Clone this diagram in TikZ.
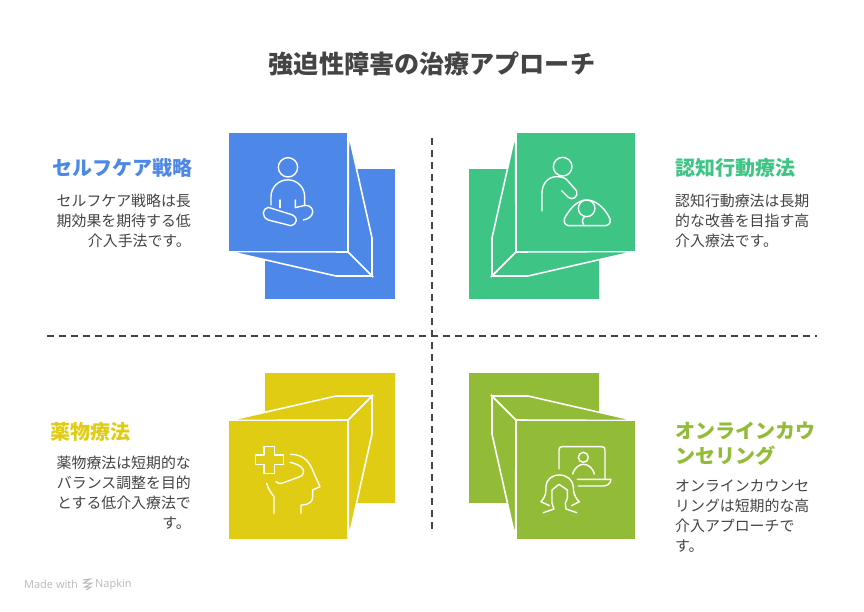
\documentclass[tikz,border=0pt]{standalone}
\usepackage{fontspec}
\setmainfont{Noto Sans CJK JP}
\newfontfamily\wmfont{Open Sans}
\definecolor{selfblue}{HTML}{4D88E8}
\definecolor{cbtgreen}{HTML}{3EC585}
\definecolor{drugyellow}{HTML}{E0CC12}
\definecolor{onlinegreen}{HTML}{92BC38}
\definecolor{inktext}{HTML}{444444}
\tikzset{
  titletext/.style={font=\fontsize{25.1}{28}\selectfont\bfseries,text=inktext},
  headtext/.style={font=\fontsize{20}{24.5}\selectfont\bfseries,inner sep=0pt},
  bodytext/.style={font=\fontsize{14.9}{20}\selectfont,text=inktext,inner sep=0pt},
  divider/.style={line width=1.4pt,inktext,dash pattern=on 7pt off 5pt},
  iconline/.style={white,line width=1.4pt,line cap=round,line join=round},
  faceline/.style={draw=white,line width=1.6pt,line join=miter},
}
\newcommand{\cubefigure}[1]{
  \fill[#1](265,169)rectangle(395,299);
  \filldraw[faceline,fill=#1](348.5,133)--(372,238)--(372,276)--(348,252)--cycle;
  \filldraw[faceline,fill=#1](229,251.5)--(336,276)--(372,276)--(348,252)--cycle;
  \fill[#1](229,133)rectangle(347,251);
  \draw[faceline](347.5,133)--(347.5,251.5)--(229,251.5);
}
\begin{document}
\begin{tikzpicture}[x=1pt,y=-1pt]
  \useasboundingbox(0,0)rectangle(864,612);
  \fill[white](0,0)rectangle(864,612);
  \node[titletext](title)at(432,64){強迫性障害の治療アプローチ};
  % cubes
  \cubefigure{selfblue}
  \begin{scope}[shift={(864,0)},xscale=-1]
    \cubefigure{cbtgreen}
  \end{scope}
  \begin{scope}[shift={(0,672)},yscale=-1]
    \cubefigure{drugyellow}
  \end{scope}
  \begin{scope}[shift={(864,672)},xscale=-1,yscale=-1]
    \cubefigure{onlinegreen}
  \end{scope}
  % dividers
  \coordinate(hleft)at(47,336);
  \coordinate(hright)at(817,336);
  \coordinate(vtop)at(432,138);
  \coordinate(vbottom)at(432,534);
  \draw[divider](hleft)--(hright);
  \draw[divider](vtop)--(vbottom);
  % meditating person
  \begin{scope}[shift={(220,125)},scale=0.3333]
    \draw[iconline](204,127)circle(29);
    \draw[iconline](153,240)--(153,215)arc(180:360:50.5)--(254,242);
    \draw[iconline](180,225)--(180,248);
    \draw[iconline](226,225)--(226,248)--(255,241)..controls(270,240)and(280,252)..(278,262)..controls(276,275)and(265,282)..(250,285);
    \draw[iconline](145,247)--(218,270)..controls(235,278)and(232,298)..(212,302)--(145,285)..controls(122,275)and(128,250)..(145,247)--cycle;
  \end{scope}
  % carer and child
  \begin{scope}[shift={(460,125)},scale=0.3333]
    \draw[iconline](308,125)circle(28);
    \draw[iconline](246,258)--(246,205)..controls(246,175)and(265,155)..(290,155)..controls(305,155)and(315,158)..(322,166)--(350,198)..controls(356,215)and(338,228)..(325,217)--(305,197);
    \draw[iconline](380,250)circle(25);
    \draw[iconline](325,302)--(438,302)..controls(452,300)and(455,285)..(445,272)..controls(430,245)and(405,225)..(380,225)..controls(355,225)and(335,245)..(318,272)..controls(308,285)and(312,300)..(325,302);
    \draw[iconline](375,274)..controls(362,285)and(368,295)..(372,302);
  \end{scope}
  % head with cross
  \begin{scope}[shift={(220,365)},scale=0.3333]
    \draw[iconline](132,245)--(163,245)--(163,270)--(190,270)--(190,298)--(163,298)--(163,325)--(132,325)--(132,298)--(106,298)--(106,270)--(132,270)--cycle;
    \draw[iconline](212,268)..controls(255,268)and(270,295)..(282,325)--(300,365)--(278,375)--(278,395)..controls(278,412)and(265,420)..(243,420)--(243,445);
    \draw[iconline](210,292)..controls(240,298)and(255,312)..(250,325)..controls(245,335)and(240,335)..(232,338)--(185,355)..controls(178,357)and(172,354)..(168,350);
    \draw[iconline](140,355)..controls(145,375)and(155,385)..(162,395)--(162,445);
  \end{scope}
  % online session
  \begin{scope}[shift={(460,365)},scale=0.3333]
    \draw[iconline](297,312)--(297,255)..controls(297,248)and(300,245)..(307,245)--(425,245)..controls(432,245)and(435,248)..(435,255)--(435,342);
    \draw[iconline](352,343)--(453,343)..controls(452,355)and(442,363)..(430,363)--(355,363);
    \draw[iconline](370,277)circle(15);
    \draw[iconline](338,327)..controls(345,305)and(360,298)..(370,298)..controls(382,298)and(397,305)..(403,327);
    \draw[iconline](268,422)--(243,410)..controls(258,395)and(258,380)..(258,365)..controls(258,345)and(275,330)..(297,330)..controls(322,330)and(338,345)..(340,365)..controls(340,380)and(342,395)..(358,410)--(335,422);
    \draw[iconline](250,443)--(282,432)--(276,415)--(276,375)--(297,358)--(322,375)--(322,400)--(316,415)--(318,432)--(350,443);
  \end{scope}
  % labels
  \node[headtext,text=selfblue,anchor=north west](selfhead)at(52,158){セルフケア戦略};
  \node[bodytext,align=right,anchor=north east](selfbody)at(191,194){セルフケア戦略は長\\期効果を期待する低\\介入手法です。};
  \node[headtext,text=cbtgreen,anchor=north west](cbthead)at(675,158){認知行動療法};
  \node[bodytext,align=left,anchor=north west](cbtbody)at(675,194){認知行動療法は長期\\的な改善を目指す高\\介入療法です。};
  \node[headtext,text=drugyellow,anchor=north west](drughead)at(50,422){薬物療法};
  \node[bodytext,align=right,anchor=north east](drugbody)at(191,456){薬物療法は短期的な\\バランス調整を目的\\とする低介入療法で\\す。};
  \node[headtext,text=onlinegreen,anchor=north west,align=left](onlinehead)at(675,422){オンラインカウ\\ンセリング};
  \node[bodytext,align=left,anchor=north west](onlinebody)at(675,479){オンラインカウンセ\\リングは短期的な高\\介入アプローチで\\す。};
  % watermark
  \node[font=\wmfont\fontsize{11}{12}\selectfont,text=black!28,inner sep=0pt,anchor=west](madewith)at(24,584.5){Made with};
  \draw[black!28,line width=1pt](83,580)--(90,579)--(84,583)--(92,583)--(85,587)--(91,587)--(86,590);
  \node[font=\wmfont\fontsize{11}{12}\selectfont,text=black!28,inner sep=0pt,anchor=west](napkin)at(95,584.5){Napkin};
\end{tikzpicture}
\end{document}
